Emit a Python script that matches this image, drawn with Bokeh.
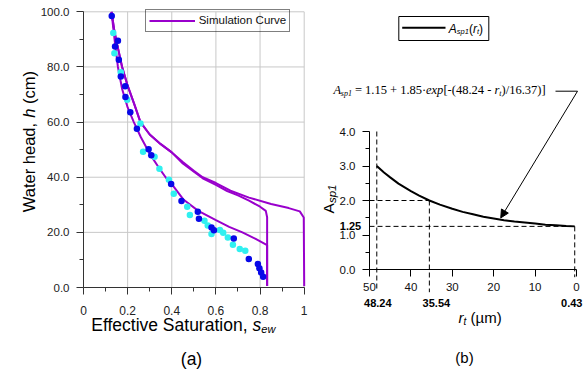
import numpy as np
from bokeh.plotting import figure
from bokeh.models import (Range1d, FixedTicker, NumeralTickFormatter, Label, Legend,
                          LegendItem, Arrow, NormalHead)
from bokeh.layouts import row
from bokeh.embed import file_html
from bokeh.resources import INLINE

# ---------------- data: panel (a) ----------------
sim_outer_s = [0.127, 0.140, 0.153, 0.175, 0.200, 0.230, 0.258, 0.300, 0.350, 0.400, 0.450, 0.500,
               0.540, 0.600, 0.666, 0.750, 0.850, 0.930, 0.980, 0.998, 1.000]
sim_outer_h = [100.0, 93.0, 88.0, 80.0, 73.2, 66.5, 60.0, 55.5, 52.0, 49.0, 45.5, 42.3,
               40.0, 37.9, 35.1, 32.6, 30.3, 28.8, 27.6, 25.4, 0.5]
sim_mid_s = [0.127, 0.140, 0.153, 0.175, 0.200, 0.230, 0.258, 0.300, 0.350, 0.400, 0.450, 0.540,
             0.600, 0.651, 0.700, 0.750, 0.800, 0.826, 0.832, 0.832]
sim_mid_h = [100.0, 93.0, 88.0, 80.0, 73.2, 66.5, 60.0, 55.5, 52.0, 49.0, 45.0, 39.6,
             37.2, 35.0, 33.4, 31.5, 29.3, 27.8, 25.5, 0.5]
sim_inner_s = [0.127, 0.135, 0.145, 0.156, 0.175, 0.200, 0.228, 0.260, 0.304, 0.341, 0.372, 0.400,
               0.454, 0.520, 0.600, 0.660, 0.720, 0.780, 0.832, 0.832]
sim_inner_h = [100.0, 94.0, 87.0, 80.0, 72.0, 65.3, 60.0, 54.5, 48.0, 43.5, 40.0, 37.5,
               31.8, 27.8, 24.4, 22.0, 20.0, 17.6, 15.4, 0.5]
meas_blue_s = [0.128, 0.156, 0.143, 0.160, 0.169, 0.189, 0.190, 0.212, 0.242, 0.295, 0.307, 0.397,
               0.444, 0.518, 0.523, 0.580, 0.591, 0.681, 0.749, 0.790, 0.797, 0.805, 0.814]
meas_blue_h = [98.5, 89.5, 87.4, 82.6, 76.5, 73.0, 69.1, 63.6, 57.6, 50.1, 48.0, 37.5,
               31.4, 27.5, 24.9, 21.8, 20.8, 17.8, 10.3, 8.5, 7.0, 5.4, 3.9]
meas_cyan_s = [0.135, 0.140, 0.169, 0.198, 0.258, 0.270, 0.322, 0.344, 0.387, 0.409, 0.470, 0.482,
               0.548, 0.563, 0.580, 0.618, 0.633, 0.654, 0.677, 0.708, 0.733]
meas_cyan_h = [92.3, 85.0, 78.1, 68.1, 59.5, 49.2, 47.4, 43.1, 39.1, 34.0, 29.3, 26.3,
               24.2, 22.5, 19.4, 20.9, 19.9, 18.1, 15.5, 14.0, 13.3]
x_ticks_a = [0, 0.2, 0.4, 0.6, 0.8, 1]
x_tick_labels_a = ["0", "0.2", "0.4", "0.6", "0.8", "1"]
y_ticks_a = [0, 20, 40, 60, 80, 100]
legend_label_a = "Simulation Curve"

# ---------------- data: panel (b) ----------------
rt_curve = [48.24, 46.5, 45.0, 43.0, 40.0, 38.0, 35.54, 33.0, 30.0, 27.5, 25.0, 22.5, 20.0,
            17.5, 15.0, 12.5, 10.0, 7.5, 5.0, 2.5, 0.43]
asp_curve = [3.00, 2.81, 2.67, 2.49, 2.27, 2.14, 2.00, 1.88, 1.76, 1.67, 1.60, 1.53, 1.48,
             1.43, 1.39, 1.36, 1.33, 1.30, 1.28, 1.26, 1.25]
rt_marks = [48.24, 35.54, 0.43]
asp_marks = [3.00, 2.00, 1.25]
rt_mark_labels = ["48.24", "35.54", "0.43"]
asp_mark_label = "1.25"
x_ticks_b = [50, 40, 30, 20, 10, 0]
y_ticks_b = [0, 1, 2, 3, 4]
arrow_target_rt = 18.3

# ---------------- styles ----------------
SANS = "Liberation Sans"
SERIF = "Liberation Serif"
PURPLE = "#9900CC"
BLUE = "#0808E8"
CYAN = "#30F0F0"
GRID = "#C8C8C8"
AXC = "#333333"
H = 374


def add_label(fig, x, y, text, size, style="normal", font=SANS, align="left",
              baseline="alphabetic", angle=0.0, color="black", x_offset=0):
    fig.add_layout(Label(x=x, y=y, text=text, text_font=font, text_font_size=f"{size}px",
                         text_font_style=style, text_align=align, text_baseline=baseline,
                         angle=angle, text_color=color, x_offset=x_offset))


def style_axis(axis, color, fs, standoff, label_color):
    axis.axis_line_color = color
    axis.major_tick_line_color = color
    axis.minor_tick_line_color = color
    axis.major_tick_out = 7
    axis.major_tick_in = 0
    axis.minor_tick_out = 4
    axis.minor_tick_in = 0
    axis.major_label_text_font = SANS
    axis.major_label_text_font_size = fs
    axis.major_label_text_color = label_color
    axis.major_label_standoff = standoff


# ================= panel (a) =================
# frame covers the whole canvas; axes are pinned at x=0 / y=0
A_W = 320
A_X0, A_Y0 = 83.0, 287.0       # pixel position of s=0, h=0
A_PX_X, A_PX_Y = 220.7, 2.757  # pixels per unit


def ax(px):
    return (px - A_X0) / A_PX_X


def ay(py):
    return (A_Y0 - py) / A_PX_Y


pa = figure(width=A_W, height=H, x_range=Range1d(ax(0), ax(A_W)), y_range=Range1d(ay(H), ay(0)),
            output_backend="svg", toolbar_location=None, min_border=0)
pa.outline_line_color = None
pa.xgrid.visible = False
pa.ygrid.visible = False
pa.background_fill_color = "white"
pa.border_fill_color = "white"

# grid lines
gx = x_ticks_a[1:]
pa.segment(gx, [y_ticks_a[0]] * len(gx), gx, [y_ticks_a[-1]] * len(gx), line_color=GRID, line_width=1)
gy = y_ticks_a[1:]
pa.segment([x_ticks_a[0]] * len(gy), gy, [x_ticks_a[-1]] * len(gy), gy, line_color=GRID, line_width=1)

xa = pa.xaxis[0]
xa.fixed_location = y_ticks_a[0]
xa.bounds = (x_ticks_a[0], x_ticks_a[-1])
xa.ticker = FixedTicker(ticks=x_ticks_a,
                        minor_ticks=[(a + b) / 2 for a, b in zip(x_ticks_a[:-1], x_ticks_a[1:])])
xa.major_label_overrides = dict(zip(x_ticks_a, x_tick_labels_a))
ya = pa.yaxis[0]
ya.fixed_location = x_ticks_a[0]
ya.bounds = (y_ticks_a[0], y_ticks_a[-1])
ya.ticker = FixedTicker(ticks=y_ticks_a,
                        minor_ticks=[(a + b) / 2 for a, b in zip(y_ticks_a[:-1], y_ticks_a[1:])])
ya.formatter = NumeralTickFormatter(format="0.0")
style_axis(xa, AXC, "12px", 11, "#222222")
style_axis(ya, AXC, "11.5px", 7, "#222222")

lineA = pa.line(sim_outer_s, sim_outer_h, line_color=PURPLE, line_width=2)
pa.line(sim_mid_s, sim_mid_h, line_color=PURPLE, line_width=2)
pa.line(sim_inner_s, sim_inner_h, line_color=PURPLE, line_width=2)
pa.scatter(meas_cyan_s, meas_cyan_h, size=6.5, fill_color=CYAN, line_color=None)
pa.scatter(meas_blue_s, meas_blue_h, size=6.5, fill_color=BLUE, line_color=None)

leg = Legend(items=[LegendItem(label=legend_label_a, renderers=[lineA])],
             location=(144.7, H - 31.7))
leg.background_fill_alpha = 0
leg.border_line_color = "black"
leg.border_line_width = 1
leg.padding = 3
leg.margin = 0
leg.spacing = 0
leg.glyph_width = 46
leg.glyph_height = 15
leg.label_height = 15
leg.label_standoff = 4
leg.label_text_font = SANS
leg.label_text_font_size = "11.5px"
leg.label_text_color = "#111111"
pa.add_layout(leg)

# axis titles (a)
add_label(pa, ax(247), ay(324), "Effective Saturation,", 17.5, align="right")
add_label(pa, ax(252), ay(324), "s", 17.5, style="italic")
add_label(pa, ax(260.8), ay(328), "ew", 11, style="italic")
add_label(pa, ax(28), ay(211.7), "Water head,", 16.5, angle=np.pi / 2)
add_label(pa, ax(28), ay(117.2), "h", 16.5, style="italic", angle=np.pi / 2)
add_label(pa, ax(28), ay(103.5), "(cm)", 16.5, angle=np.pi / 2)
add_label(pa, ax(191), ay(358), "(a)", 17.5, align="center", baseline="middle")

# ================= panel (b) =================
B_W = 267
B_X0, B_Y0 = 49, 269          # pixel position of r=50, A=0 inside this figure
B_PX_R, B_PX_A = 4.14, 34.5   # pixels per unit


def br(px):
    return 50 - (px - 320 - B_X0) / B_PX_R


def ba(py):
    return (B_Y0 - py) / B_PX_A


pb = figure(width=B_W, height=H,
            x_range=Range1d(50 + B_X0 / B_PX_R, 50 - (B_W - B_X0) / B_PX_R),
            y_range=Range1d(-(H - B_Y0) / B_PX_A, B_Y0 / B_PX_A),
            output_backend="svg", toolbar_location=None, min_border=0)
pb.outline_line_color = None
pb.xgrid.visible = False
pb.ygrid.visible = False
pb.background_fill_color = "white"
pb.border_fill_color = "white"

xb = pb.xaxis[0]
xb.fixed_location = 0
xb.bounds = (min(x_ticks_b), max(x_ticks_b))
xb.ticker = FixedTicker(ticks=x_ticks_b, minor_ticks=[])
yb = pb.yaxis[0]
yb.fixed_location = max(x_ticks_b)
yb.bounds = (min(y_ticks_b), max(y_ticks_b))
yb.ticker = FixedTicker(ticks=y_ticks_b,
                        minor_ticks=[(a + b) / 2 for a, b in zip(y_ticks_b[:-1], y_ticks_b[1:])])
yb.formatter = NumeralTickFormatter(format="0.0")
style_axis(xb, "black", "11.5px", 6, "#111111")
style_axis(yb, "black", "11.5px", 7, "#111111")

# dashed guide lines built from the marked values
seg_x0 = [rt_marks[0], max(x_ticks_b), rt_marks[1], max(x_ticks_b), rt_marks[2]]
seg_y0 = [max(y_ticks_b), asp_marks[1], asp_marks[1], asp_marks[2], asp_marks[2]]
seg_x1 = [rt_marks[0], rt_marks[1], rt_marks[1], rt_marks[2], rt_marks[2]]
seg_y1 = [ba(288), asp_marks[1], ba(291.7), asp_marks[2], ba(276.7)]
pb.segment(seg_x0, seg_y0, seg_x1, seg_y1, line_color="black", line_width=1, line_dash="5 3")

pb.line(rt_curve, asp_curve, line_color="black", line_width=2)

# equation leader and arrow
lead_y = ba(90.7)
pb.segment([br(555)], [lead_y], [br(577)], [lead_y], line_color="black", line_width=1)
tip_a = float(np.interp(arrow_target_rt, rt_curve[::-1], asp_curve[::-1])) + 0.05
pb.add_layout(Arrow(end=NormalHead(size=8, fill_color="black", line_color="black", line_width=1),
                    x_start=br(577), y_start=lead_y, x_end=arrow_target_rt, y_end=tip_a,
                    line_color="black", line_width=1))

# equation text
eq_base = ba(89.5)
eq_sub = ba(92.5)
eq_parts = [("A", 333, "italic", 12.5, eq_base), ("sp1", 340.3, "italic", 8, eq_sub),
            ("= 1.15 + 1.85·", 354.4, "normal", 12.5, eq_base), ("exp", 425.5, "italic", 12.5, eq_base),
            ("[-(48.24 -", 442.9, "normal", 12.5, eq_base), ("r", 493.9, "italic", 12.5, eq_base),
            ("t", 498.8, "italic", 8, eq_sub), (")/16.37)]", 501.0, "normal", 12.5, eq_base)]
for txt, px, st, fs, yy in eq_parts:
    add_label(pb, br(px), yy, txt, fs, style=st, font=SERIF)

# legend (b)
pb.quad(left=[br(398.3)], right=[br(488.3)], top=[ba(16)], bottom=[ba(40)],
        fill_alpha=0, line_color="black", line_width=1)
pb.segment([br(401.7)], [ba(27.3)], [br(445)], [ba(27.3)], line_color="black", line_width=2)
lg_parts = [("A", 448.3, "italic", 12, ba(28.5)), ("sp1", 456.3, "italic", 7.5, ba(31)),
            ("(", 468.4, "normal", 12, ba(28.5)), ("r", 472.4, "italic", 12, ba(28.5)),
            ("t", 476.4, "italic", 7.5, ba(31)), (")", 478.5, "normal", 12, ba(28.5))]
for txt, px, st, fs, yy in lg_parts:
    add_label(pb, br(px), yy, txt, fs, style=st)

# bold mark labels
for val, txt, off in zip(rt_marks, rt_mark_labels, [1, 7, -3]):
    add_label(pb, val, ba(302.7), txt, 11, style="bold", align="center", baseline="middle",
              x_offset=off)
add_label(pb, br(360.7), asp_marks[2], asp_mark_label, 11, style="bold", align="right",
          baseline="middle")

# axis titles (b)
add_label(pb, br(327.5), ba(213), "A", 15.5, angle=np.pi / 2)
add_label(pb, br(331), ba(202.6), "sp1", 11.5, style="italic", angle=np.pi / 2)
add_label(pb, br(458), ba(316.5), "r", 15, style="italic")
add_label(pb, br(463), ba(320.5), "t", 10, style="italic")
add_label(pb, br(470), ba(316.5), "(µm)", 15)
add_label(pb, br(464), ba(356.7), "(b)", 15, align="center", baseline="middle")

layout = row(pa, pb)
open("out.html", "w").write(file_html(layout, INLINE))
